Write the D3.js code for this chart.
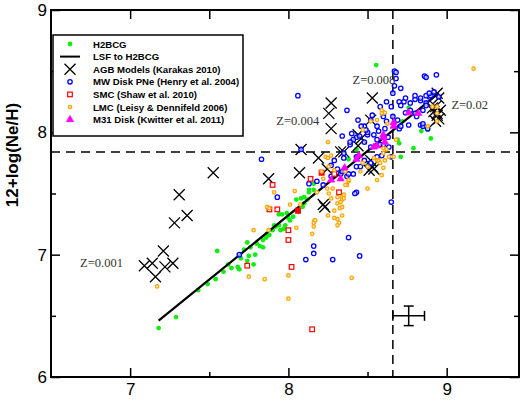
<!DOCTYPE html>
<html><head><meta charset="utf-8">
<script src="https://cdn.jsdelivr.net/npm/d3@7/dist/d3.min.js"></script>
<style>body{margin:0;background:#fff}</style>
</head><body><svg id="c" width="522" height="400"></svg>
<script>
// ---- tick values ----
const xTicks = [7, 8, 9];
const xMinor = [7.5, 8.5];
const yTicks = [6, 7, 8, 9];
const yMinor = [6.5, 7.5, 8.5];

// ---- series: [12+log(O/H), 12+log(Ne/H)] ----
const h2bcg = [[7.18,6.40],[7.29,6.49],[7.43,6.71],[7.49,6.76],[7.54,6.80],[7.59,6.86],[7.55,7.03],[7.64,6.89],[7.68,6.90],[7.69,6.88],[7.72,7.04],[7.74,7.10],[7.75,6.99],[7.78,6.92],[7.76,7.06],[7.80,7.09],[7.82,7.07],[7.84,7.12],[7.865,7.17],[7.90,7.20],[7.92,7.23],[7.94,7.24],[7.95,7.20],[7.97,7.21],[7.98,7.24],[8.01,7.28],[8.03,7.31],[8.065,7.35],[8.09,7.39],[8.10,7.42],[8.12,7.45],[8.13,7.51],[7.94,7.33],[7.96,7.33],[7.99,7.34],[8.08,7.46],[8.10,7.47],[8.16,7.53],[8.16,7.58],[7.74,6.95],[8.05,7.45],[8.13,7.53],[8.38,7.78],[8.43,7.86],[8.555,8.55],[8.84,8.01],[8.90,7.95],[8.79,7.87],[8.71,7.80],[8.69,7.94],[8.70,7.91],[8.76,8.20],[8.88,8.02],[8.72,8.09],[7.70,6.97],[7.86,7.14],[7.88,7.16],[8.00,7.30],[7.62,6.92],[7.79,7.00],[7.84,7.06],[7.91,7.24]];
const lsfX = [7.18, 8.95];
const lsfY = [6.46, 8.32];
const agb = [[7.31,7.49],[7.36,7.32],[7.28,7.26],[7.21,7.03],[7.09,6.91],[7.14,6.93],[7.22,6.90],[7.27,6.93],[7.16,6.82],[7.525,7.67],[7.875,7.62],[8.07,7.67],[8.08,7.86],[8.19,7.79],[8.245,7.70],[8.27,8.24],[8.255,8.155],[8.27,8.03],[8.35,7.84],[8.53,8.28],[8.44,7.89],[8.53,7.72],[8.54,7.70],[8.52,7.77],[8.44,7.98],[8.46,7.95],[8.33,7.84],[8.52,8.10],[8.22,7.41],[8.23,7.39],[8.51,7.69],[8.94,8.32],[8.95,8.28],[8.93,8.21],[8.94,8.155],[8.95,8.11],[8.93,8.09],[8.92,8.17],[8.96,8.18],[8.94,8.14],[8.91,8.20]];
const mwDisk = [[8.06,8.30],[7.83,7.78],[7.93,7.47],[8.67,8.50],[8.68,8.44],[8.86,8.46],[8.935,8.47],[8.37,8.18],[8.44,8.10],[8.34,7.97],[8.27,7.73],[8.13,7.58],[8.43,7.51],[7.69,7.00],[8.16,7.07],[8.16,7.01],[8.11,6.96],[8.28,6.96],[8.38,7.14],[8.45,6.99],[8.65,7.43],[8.22,7.57],[8.40,7.99],[8.43,7.96],[8.41,7.94],[8.50,7.98],[8.39,7.90],[8.29,7.77],[8.31,7.70],[8.33,7.66],[8.37,7.64],[8.34,7.68],[8.18,7.60],[8.27,7.64],[8.66,8.32],[8.73,8.25],[8.77,8.24],[8.80,8.27],[8.835,8.26],[8.87,8.24],[8.89,8.29],[8.87,8.45],[8.68,8.49],[8.77,8.18],[8.74,8.16],[8.65,8.21],[8.60,8.155],[8.66,8.13],[8.69,8.10],[8.80,8.155],[8.52,8.10],[8.48,8.05],[8.56,8.05],[8.61,8.03],[8.50,8.00],[8.54,7.98],[8.45,7.97],[8.48,7.92],[8.52,7.88],[8.58,7.90],[8.635,7.88],[8.65,7.80],[8.59,7.81],[8.48,7.77],[8.52,7.75],[8.43,7.72],[8.39,7.92],[8.70,8.03],[8.76,8.06],[8.835,8.06],[8.74,8.28],[8.71,8.36],[8.70,8.25],[8.80,8.30],[8.835,8.28],[8.90,8.30],[8.71,8.22],[8.85,8.18],[8.81,8.13],[8.85,8.05],[8.71,8.05],[8.60,8.13],[8.56,7.94],[8.49,8.02],[8.35,7.83],[8.43,7.80],[8.41,7.66],[8.56,7.80],[8.60,7.90],[8.455,7.72],[8.42,7.50],[8.87,8.30],[8.89,8.32],[8.92,8.33],[8.95,8.29],[8.87,8.22],[8.85,8.07],[8.88,8.03],[8.35,7.79],[8.29,7.67],[8.38,7.66],[8.08,7.86],[8.63,7.96],[8.57,8.01],[8.62,8.09],[8.53,8.14],[8.46,8.05],[8.67,8.38],[8.62,8.25],[8.58,8.21]];
const smc = [[7.90,7.57],[7.88,7.37],[7.93,7.37],[8.00,7.20],[8.00,7.12],[7.74,6.91],[8.02,6.90],[8.15,6.39],[8.32,7.51],[8.29,7.66],[8.14,7.62]];
const smcFilled = [[8.06,7.36],[8.21,7.67]];
const lmc = [[9.17,8.52],[8.25,7.92],[8.235,7.80],[8.25,7.79],[8.27,7.81],[8.21,7.68],[7.91,7.51],[8.04,7.52],[8.245,7.54],[8.34,7.47],[8.36,7.68],[8.50,7.54],[8.47,8.02],[8.59,8.18],[8.61,8.16],[8.88,8.05],[8.94,8.21],[8.60,7.83],[8.635,7.80],[8.56,7.77],[7.17,6.74],[7.78,7.20],[7.75,6.82],[7.85,6.80],[8.00,6.83],[8.00,6.64],[7.865,7.39],[7.88,7.38],[7.875,7.20],[8.01,7.41],[8.075,7.41],[8.05,7.22],[8.15,7.17],[8.165,7.28],[8.16,7.26],[8.25,7.32],[8.29,7.36],[8.31,7.42],[8.34,7.32],[8.32,7.26],[8.34,7.45],[8.35,7.49],[8.37,7.57],[8.40,6.81],[8.27,7.46],[8.18,7.51],[8.31,7.29],[8.325,7.38],[8.29,7.69],[8.22,7.62],[8.28,7.54],[8.255,7.50],[8.31,7.47],[8.33,7.43],[8.34,7.39],[8.35,7.46],[8.38,7.60],[8.36,7.57],[8.29,7.30],[8.31,7.24],[8.17,7.28],[8.16,7.23],[8.47,7.75],[8.455,7.68],[8.50,7.72],[8.255,7.72],[8.59,8.155],[8.56,8.10],[8.52,8.09],[8.625,8.07],[8.68,7.94],[8.60,7.87],[8.62,7.86],[8.57,7.77],[8.58,7.75],[8.61,7.77],[8.54,7.79],[8.91,8.21],[8.94,8.155],[8.94,8.09],[8.665,7.80],[8.60,7.71],[8.59,7.65],[8.56,7.61],[8.38,7.61]];
const m31 = [[8.54,7.88],[8.56,7.89],[8.60,7.96],[8.61,7.92],[8.665,8.05],[8.665,8.08],[8.76,8.16],[8.82,8.155],[8.43,7.78],[8.445,7.81],[8.355,7.71],[8.33,7.62],[8.27,7.61],[8.60,7.98]];

// reference lines (solar) and typical error bar
const refX = 8.66, refY = 7.84;
const errPt = [8.76, 6.50], errDX = 0.10, errDY = 0.08;

// metallicity labels of the AGB model groups
const zLabels = ["Z=0.001", "Z=0.004", "Z=0.008", "Z=0.02"];
const zPos = [[6.684, 6.90], [7.924, 8.06], [8.405, 8.395], [9.03, 8.19]];

const legendLabels = ["H2BCG", "LSF to H2BCG", "AGB Models (Karakas 2010)", "MW Disk PNe (Henry et al. 2004)", "SMC (Shaw et al. 2010)", "LMC (Leisy & Dennifeld 2006)", "M31 Disk (Kwitter et al. 2011)"];

const C = {green:"#11ee11", blue:"#0000ff", red:"#ff0000", orange:"#ffa500", magenta:"#ff00ff"};
const orangeFill = "#fff0cc";

const svg = d3.select("#c");
const L = 51, R = 519, T = 10, B = 377;
const x = d3.scaleLinear().domain([6.5, 9.457]).range([L, R]);
const y = d3.scaleLinear().domain([6, 9]).range([B, T]);

// axes
function ax(g){ g.select(".domain").remove(); g.selectAll("line").attr("stroke","#000").attr("stroke-width",1.5); }
const fnt = "Liberation Sans, Arial, sans-serif";
svg.append("g").attr("transform",`translate(0,${B})`)
  .call(d3.axisBottom(x).tickValues(xTicks).tickSizeInner(-9).tickSizeOuter(0).tickPadding(6).tickFormat(d3.format("d")))
  .call(ax).selectAll("text").attr("font-size",17).attr("font-family",fnt).attr("fill","#000");
svg.append("g").attr("transform",`translate(0,${B})`)
  .call(d3.axisBottom(x).tickValues(xMinor).tickSizeInner(-5).tickSizeOuter(0).tickFormat("")).call(ax);
svg.append("g").attr("transform",`translate(0,${T})`)
  .call(d3.axisTop(x).tickValues(xTicks.concat(xMinor)).tickSizeInner(-9).tickSizeOuter(0).tickFormat("")).call(ax);
svg.append("g").attr("transform",`translate(${L},0)`)
  .call(d3.axisLeft(y).tickValues(yTicks).tickSizeInner(-9).tickSizeOuter(0).tickPadding(4).tickFormat(d3.format("d")))
  .call(ax).selectAll("text").attr("font-size",17).attr("font-family",fnt).attr("fill","#000");
svg.append("g").attr("transform",`translate(${L},0)`)
  .call(d3.axisLeft(y).tickValues(yMinor).tickSizeInner(-5).tickSizeOuter(0).tickFormat("")).call(ax);
svg.append("g").attr("transform",`translate(${R},0)`)
  .call(d3.axisRight(y).tickValues(yTicks).tickSizeInner(-9).tickSizeOuter(0).tickFormat("")).call(ax);
svg.append("g").attr("transform",`translate(${R},0)`)
  .call(d3.axisRight(y).tickValues(yMinor).tickSizeInner(-5).tickSizeOuter(0).tickFormat("")).call(ax);

// y-axis title
svg.append("text").attr("transform",`translate(18,155) rotate(-90)`)
  .attr("text-anchor","middle").attr("font-family",fnt).attr("font-weight","bold")
  .attr("font-size",17).text("12+log(Ne/H)");

// reference dashed lines
svg.append("line").attr("x1",x(refX)).attr("x2",x(refX)).attr("y1",T).attr("y2",B)
  .attr("stroke","#000").attr("stroke-width",1.5).attr("stroke-dasharray","9,6");
svg.append("line").attr("x1",L).attr("x2",R).attr("y1",y(refY)).attr("y2",y(refY))
  .attr("stroke","#000").attr("stroke-width",1.5).attr("stroke-dasharray","9,6");

const plot = svg.append("g");
// H2BCG
plot.selectAll(".g").data(h2bcg).join("circle").attr("cx",d=>x(d[0])).attr("cy",d=>y(d[1])).attr("r",2.4).attr("fill",C.green);
// LSF
plot.append("path").datum(d3.zip(lsfX,lsfY)).attr("d",d3.line().x(d=>x(d[0])).y(d=>y(d[1])))
  .attr("stroke","#000").attr("stroke-width",2.2).attr("fill","none");
// AGB crosses
const xs = 5.5;
const crossPath = `M${-xs},${-xs}L${xs},${xs}M${-xs},${xs}L${xs},${-xs}`;
plot.selectAll(".x").data(agb).join("path").attr("transform",d=>`translate(${x(d[0])},${y(d[1])})`)
  .attr("d",crossPath).attr("stroke","#000").attr("stroke-width",1.3).attr("fill","none");
// MW disk
plot.selectAll(".b").data(mwDisk).join("circle").attr("cx",d=>x(d[0])).attr("cy",d=>y(d[1])).attr("r",2.2)
  .attr("fill","#fff").attr("fill-opacity",0.6).attr("stroke",C.blue).attr("stroke-width",1.3);
// SMC
plot.selectAll(".s").data(smc).join("rect").attr("x",d=>x(d[0])-2.3).attr("y",d=>y(d[1])-2.3).attr("width",4.6).attr("height",4.6)
  .attr("fill","#fff").attr("stroke",C.red).attr("stroke-width",1.2);
plot.selectAll(".sf").data(smcFilled).join("rect").attr("x",d=>x(d[0])-2.5).attr("y",d=>y(d[1])-2.5).attr("width",5).attr("height",5)
  .attr("fill",C.red).attr("stroke",C.red).attr("stroke-width",1);
// LMC
plot.selectAll(".o").data(lmc).join("circle").attr("cx",d=>x(d[0])).attr("cy",d=>y(d[1])).attr("r",1.7)
  .attr("fill",orangeFill).attr("stroke",C.orange).attr("stroke-width",1.3);
// M31
const tri = d3.symbol().type(d3.symbolTriangle).size(22);
plot.selectAll(".m").data(m31).join("path").attr("transform",d=>`translate(${x(d[0])},${y(d[1])})`)
  .attr("d",tri).attr("fill",C.magenta).attr("stroke",C.magenta).attr("stroke-width",0.8);

// error bar
const ex = x(errPt[0]), ey = y(errPt[1]);
const eb = svg.append("g").attr("stroke","#000").attr("stroke-width",1.5);
eb.append("line").attr("x1",x(errPt[0]-errDX)).attr("x2",x(errPt[0]+errDX)).attr("y1",ey).attr("y2",ey);
eb.append("line").attr("x1",ex).attr("x2",ex).attr("y1",y(errPt[1]-errDY)).attr("y2",y(errPt[1]+errDY));
[errPt[0]-errDX, errPt[0]+errDX].forEach(v=>eb.append("line").attr("x1",x(v)).attr("x2",x(v)).attr("y1",ey-5).attr("y2",ey+5));
[errPt[1]-errDY, errPt[1]+errDY].forEach(v=>eb.append("line").attr("x1",ex-5).attr("x2",ex+5).attr("y1",y(v)).attr("y2",y(v)));

// Z labels
svg.selectAll(".z").data(zLabels).join("text").attr("x",(d,i)=>x(zPos[i][0])).attr("y",(d,i)=>y(zPos[i][1]))
  .attr("font-family","Liberation Serif, Times New Roman, serif").attr("font-size",12.5).attr("fill","#333").text(d=>d);

// frame
svg.append("rect").attr("x",L).attr("y",T).attr("width",R-L).attr("height",B-T)
  .attr("fill","none").attr("stroke","#000").attr("stroke-width",2);

// legend
const lg = svg.append("g");
lg.append("rect").attr("x",53).attr("y",35).attr("width",190).attr("height",101)
  .attr("fill","#fff").attr("stroke","#000").attr("stroke-width",1.5);
const ly = i => 44 + i*12.6;
const mx = 70;
legendLabels.forEach((t,i)=>{
  lg.append("text").attr("x",93).attr("y",ly(i)+3.5).attr("font-family",fnt).attr("font-weight","bold")
    .attr("font-size",9.6).text(t);
});
lg.append("circle").attr("cx",mx).attr("cy",ly(0)).attr("r",2.4).attr("fill",C.green);
lg.append("line").attr("x1",mx-10).attr("x2",mx+10).attr("y1",ly(1)).attr("y2",ly(1)).attr("stroke","#000").attr("stroke-width",2);
lg.append("path").attr("transform",`translate(${mx},${ly(2)})`).attr("d",crossPath).attr("stroke","#000").attr("stroke-width",1.3);
lg.append("circle").attr("cx",mx).attr("cy",ly(3)).attr("r",2.2).attr("fill","#fff").attr("stroke",C.blue).attr("stroke-width",1.3);
lg.append("rect").attr("x",mx-2.3).attr("y",ly(4)-2.3).attr("width",4.6).attr("height",4.6).attr("fill","#fff").attr("stroke",C.red).attr("stroke-width",1.2);
lg.append("circle").attr("cx",mx).attr("cy",ly(5)).attr("r",1.7).attr("fill",orangeFill).attr("stroke",C.orange).attr("stroke-width",1.3);
lg.append("path").attr("transform",`translate(${mx},${ly(6)})`).attr("d",tri).attr("fill",C.magenta).attr("stroke",C.magenta).attr("stroke-width",0.8);
</script>
</body></html>
